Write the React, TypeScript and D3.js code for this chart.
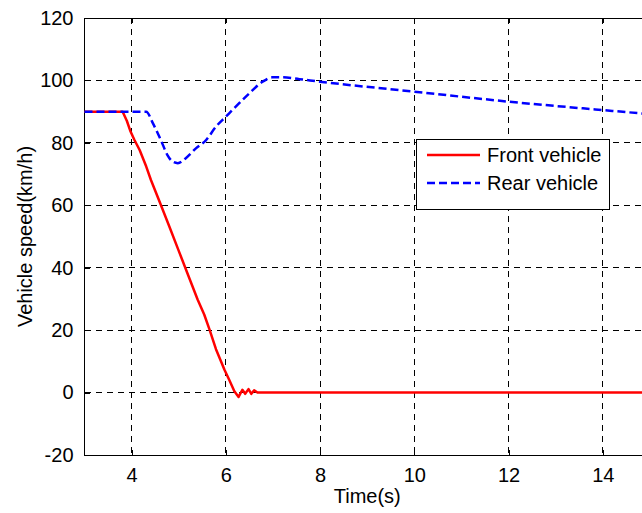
import * as d3 from 'd3';
import React, { useRef, useEffect } from 'react';

// Vehicle speed data
const frontTime = [3, 3.81, 3.9, 3.97, 4.06, 4.17, 4.31, 4.41, 4.6, 4.8, 5.0, 5.2, 5.4, 5.54, 5.65, 5.79, 5.97, 6.07, 6.18, 6.27, 6.35, 6.41, 6.48, 6.54, 6.6, 6.67, 15];
const frontSpeed = [90, 90, 87.0, 83.9, 80.9, 77.7, 72.4, 68.1, 60.9, 53.2, 45.4, 37.6, 29.8, 25.0, 20.3, 13.9, 7.3, 4.1, 0.4, -1.4, 0.9, -0.4, 1.1, -0.4, 0.7, 0, 0];

const rearTime = [3, 4.31, 4.45, 4.62, 4.76, 4.87, 4.98, 5.15, 5.37, 5.58, 5.79, 6.0, 6.21, 6.5, 6.78, 6.99, 7.2, 7.56, 7.99, 8.4, 10, 12, 14, 15];
const rearSpeed = [90, 90, 86.3, 80.9, 76.1, 74.0, 73.5, 75.1, 78.3, 80.9, 85.2, 88.4, 91.6, 95.9, 99.6, 101.0, 101.0, 100.4, 99.6, 98.9, 96.4, 93.2, 90.5, 89.2];

const xTicks = [4, 6, 8, 10, 12, 14];
const yTicks = [-20, 0, 20, 40, 60, 80, 100, 120];
const legendLabels = ['Front vehicle', 'Rear vehicle'];

const width = 642;
const height = 513;
const font = '"Liberation Sans", Arial, sans-serif';

function Chart() {
    const ref = useRef<SVGSVGElement>(null);

    useEffect(() => {
        draw();
    }, []);

    const draw = () => {
        const left = 84.5, right = 650, top = 18, bottom = 455;
        const svg = d3.select(ref.current);
        svg.selectAll('*').remove();

        const x = d3.scaleLinear().domain([3, 15]).range([left, right]);
        const y = d3.scaleLinear().domain([-20, 120]).range([bottom, top]);

        svg.append('rect').attr('width', width).attr('height', height).attr('fill', '#fff');

        // grid
        const grid = svg.append('g').attr('stroke', '#000').attr('stroke-width', 1)
            .attr('stroke-dasharray', '6,5').attr('shape-rendering', 'crispEdges');
        xTicks.forEach(t => {
            grid.append('line').attr('x1', x(t)).attr('x2', x(t)).attr('y1', top).attr('y2', bottom);
        });
        yTicks.filter(t => t > -20 && t < 120).forEach(t => {
            grid.append('line').attr('x1', left).attr('x2', right).attr('y1', y(t)).attr('y2', y(t));
        });

        // axes box with inward ticks
        svg.append('rect').attr('x', left).attr('y', top).attr('width', right - left).attr('height', bottom - top)
            .attr('fill', 'none').attr('stroke', '#000').attr('shape-rendering', 'crispEdges');

        const fmt = (d: any) => String(d);
        const xAxis = svg.append('g').attr('transform', `translate(0,${bottom})`)
            .call(d3.axisBottom(x).tickValues(xTicks).tickFormat(fmt).tickSizeInner(-5).tickSizeOuter(0).tickPadding(13));
        const xTop = svg.append('g').attr('transform', `translate(0,${top})`)
            .call(d3.axisTop(x).tickValues(xTicks).tickSizeInner(-5).tickSizeOuter(0).tickFormat(() => ''));
        const yAxis = svg.append('g').attr('transform', `translate(${left},0)`)
            .call(d3.axisLeft(y).tickValues(yTicks).tickFormat(fmt).tickSizeInner(-5).tickSizeOuter(0).tickPadding(11));
        [xAxis, xTop, yAxis].forEach(g => {
            g.select('.domain').remove();
            g.selectAll('line').attr('shape-rendering', 'crispEdges');
            g.selectAll('text').attr('font-family', font).attr('font-size', 20).attr('fill', '#000');
        });

        const frontPath = d3.line<number>()
            .x((d, i) => x(frontTime[i]))
            .y(d => y(d));
        svg.append('path').attr('d', frontPath(frontSpeed)).attr('fill', 'none')
            .attr('stroke', '#ff0000').attr('stroke-width', 2.5).attr('stroke-linejoin', 'round');

        const rearPath = d3.line<number>()
            .x((d, i) => x(rearTime[i]))
            .y(d => y(d))
            .curve(d3.curveMonotoneX);
        svg.append('path').attr('d', rearPath(rearSpeed)).attr('fill', 'none')
            .attr('stroke', '#0000ff').attr('stroke-width', 2.5).attr('stroke-dasharray', '8,4');

        // axis labels
        svg.append('text').attr('x', (left + right) / 2).attr('y', 503).attr('text-anchor', 'middle')
            .attr('font-family', font).attr('font-size', 20).text('Time(s)');
        svg.append('text').attr('transform', `translate(32,${(top + bottom) / 2}) rotate(-90)`)
            .attr('text-anchor', 'middle').attr('font-family', font).attr('font-size', 20)
            .text('Vehicle speed(km/h)');

        // legend
        const lg = svg.append('g');
        lg.append('rect').attr('x', 416.5).attr('y', 139.5).attr('width', 193).attr('height', 70)
            .attr('fill', '#fff').attr('stroke', '#000');
        const colors = ['#ff0000', '#0000ff'];
        const dashes = ['none', '8,4'];
        legendLabels.forEach((label, i) => {
            const ly = 155 + i * 28;
            lg.append('line').attr('x1', 427).attr('x2', 480).attr('y1', ly).attr('y2', ly)
                .attr('stroke', colors[i]).attr('stroke-width', 2.5).attr('stroke-dasharray', dashes[i]);
            lg.append('text').attr('x', 487).attr('y', ly).attr('dy', '0.35em')
                .attr('font-family', font).attr('font-size', 20).text(label);
        });
    };

    return (
        <svg ref={ref} width={width} height={height}
            style={{ position: 'absolute', left: 0, top: 0, display: 'block' }}>
        </svg>
    );
}

export default function App() {
    return <Chart />;
}
